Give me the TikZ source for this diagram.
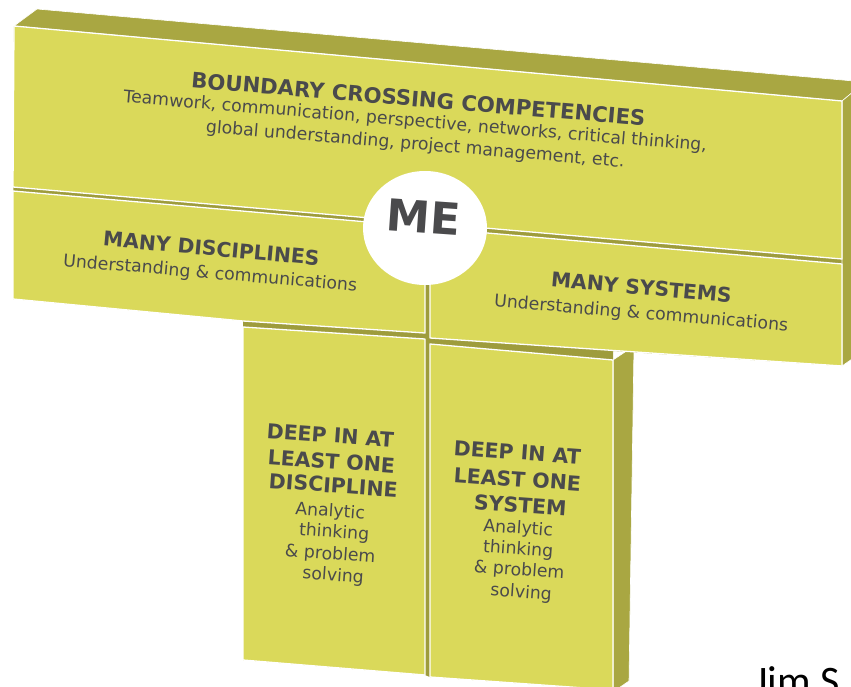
\documentclass[tikz,border=0pt]{standalone}
\usepackage{fontspec}
\setmainfont{DejaVu Sans}
\newfontfamily\jimfont{Carlito}
\usetikzlibrary{shapes.geometric}
\definecolor{face}{HTML}{DAD95A}
\definecolor{olive}{HTML}{A9A742}
\definecolor{seam}{HTML}{9E9C3C}
\definecolor{ink}{HTML}{4A4A4C}
\tikzset{
  frontface/.style={fill=face, draw=white, line width=1.3pt, line join=round},
  darkface/.style={fill=olive, draw=white, line width=0.6pt, line join=round},
  gap/.style={fill=seam},
  txt/.style={text=ink, inner sep=0pt, anchor=mid},
  title/.style={txt, font=\bfseries\fontsize{21.2}{25}\selectfont},
  head/.style={txt, font=\bfseries\fontsize{20.3}{24}\selectfont},
  colhead/.style={txt, font=\bfseries\fontsize{20.5}{24}\selectfont},
  sub/.style={txt, font=\fontsize{17.3}{21}\selectfont},
}
\begin{document}
\begin{tikzpicture}[x=1pt,y=-1pt]
\useasboundingbox (0,0) rectangle (851,687);
\begin{scope}
\clip (0,0) rectangle (851,687);
% underlay showing the seams between blocks
\fill[gap] (14,26) -- (842,101) -- (842,366) -- (613,351) -- (613,690) -- (430,677)
  -- (425,675) -- (243,660) -- (243,321) -- (13,299) -- cycle;
% dark top and side faces
\path[darkface] (14,26) -- (37,9) -- (865,82) -- (842,101) -- cycle;
\path[darkface] (842,101) -- (865,82) -- (865,350) -- (842,366) -- cycle;
\path[darkface] (613,360) -- (634,346) -- (629,681) -- (613,692) -- cycle;
% front faces
\path[frontface] (14,26) -- (842,101) -- (842,259) -- (13,187) -- cycle;
\path[frontface] (13,191) -- (425,227) -- (425,333) -- (243,321) -- (13,299) -- cycle;
\path[frontface] (430,228) -- (842,264) -- (842,366) -- (430,338) -- cycle;
\path[frontface] (243,327) -- (425,339) -- (425,675) -- (243,660) -- cycle;
\path[frontface] (430,344) -- (613,360) -- (613,690) -- (430,677) -- cycle;
% centre disc
\node[ellipse, fill=white, minimum width=124pt, minimum height=114pt, inner sep=0pt] (me) at (425,228) {};
\node[txt, font=\bfseries\fontsize{44}{44}\selectfont, rotate=-4] (metext) at (423,230) {ME};
% top slab text
\node[title, rotate=-4.8] (t1) at (418,104) {BOUNDARY CROSSING COMPETENCIES};
\node[sub, rotate=-4.8] (t2) at (415,124) {Teamwork, communication, perspective, networks, critical thinking,};
\node[sub, rotate=-4.8] (t3) at (415,147) {global understanding, project management, etc.};
% middle row text
\node[head, rotate=-5.2] (md1) at (211,253) {MANY DISCIPLINES};
\node[sub, rotate=-4.9] (md2) at (210,276) {Understanding \& communications};
\node[head, rotate=-5] (ms1) at (641,292) {MANY SYSTEMS};
\node[sub, rotate=-4.7] (ms2) at (641,316) {Understanding \& communications};
% column 1 text
\node[colhead, rotate=-4] (c1a) at (330,440) {DEEP IN AT};
\node[colhead, rotate=-4] (c1b) at (331,466) {LEAST ONE};
\node[colhead, rotate=-4] (c1c) at (333,490) {DISCIPLINE};
\node[sub, rotate=-4] (c1d) at (330,514) {Analytic};
\node[sub, rotate=-4] (c1e) at (334,535) {thinking};
\node[sub, rotate=-4] (c1f) at (330,557) {\& problem};
\node[sub, rotate=-4] (c1g) at (333,578) {solving};
% column 2 text
\node[colhead, rotate=-4] (c2a) at (517,457) {DEEP IN AT};
\node[colhead, rotate=-4] (c2b) at (517,484) {LEAST ONE};
\node[colhead, rotate=-4] (c2c) at (520,510) {SYSTEM};
\node[sub, rotate=-4] (c2d) at (518,531) {Analytic};
\node[sub, rotate=-4] (c2e) at (518,552) {thinking};
\node[sub, rotate=-4] (c2f) at (519,573) {\& problem};
\node[sub, rotate=-4] (c2g) at (521,595) {solving};
% author credit, cut by the page edge
\node[anchor=base west, inner sep=0pt, font=\jimfont\fontsize{42}{42}\selectfont] (jim) at (754,695) {Jim S};
\end{scope}
\end{tikzpicture}
\end{document}
